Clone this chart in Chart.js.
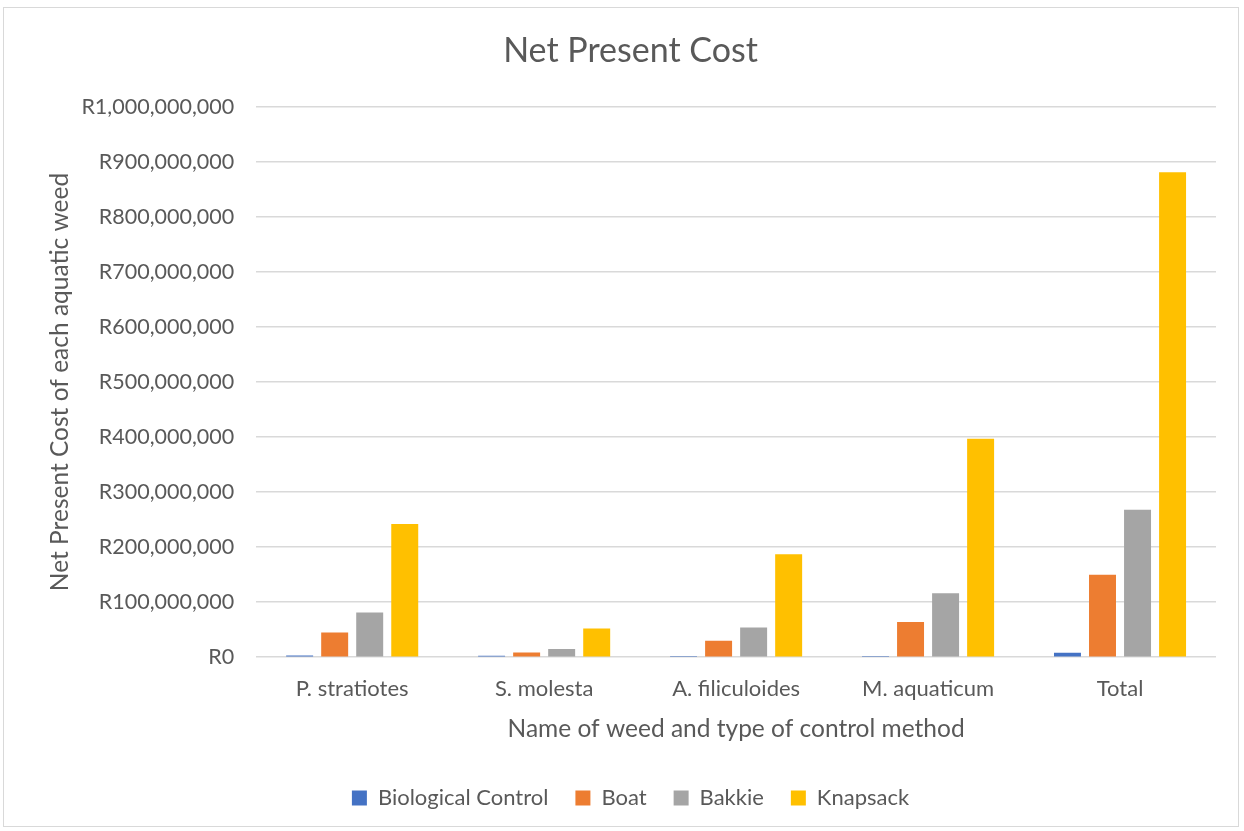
<!DOCTYPE html>
<html lang="en">
<head>
    <meta charset="UTF-8">
    <title>Net Present Cost</title>
    <script src="https://cdn.jsdelivr.net/npm/chart.js"></script>
    <style>
body {
    margin: 0;
    background: #fff;
}
.chart-box {
    position: absolute;
    left: 3px;
    top: 7px;
    width: 1236px;
    height: 820px;
    border: 1px solid #d9d9d9;
    box-sizing: border-box;
}
    </style>
</head>
<body>
    <div class="chart-box">
        <canvas id="npcChart"></canvas>
    </div>
    <script>
        // Weeds and control methods
        const weeds = ['P. stratiotes', 'S. molesta', 'A. filiculoides', 'M. aquaticum', 'Total'];
        const biological = [3000000, 2500000, 500000, 2000000, 8000000];
        const boat = [45000000, 8500000, 30000000, 64000000, 150000000];
        const bakkie = [81000000, 15000000, 54000000, 116000000, 268000000];
        const knapsack = [242000000, 52000000, 187000000, 397000000, 881000000];

        const fontFamily = 'Lato, "Liberation Sans", sans-serif';
        const grey = '#595959';

        const ctx = document.getElementById('npcChart').getContext('2d');
        new Chart(ctx, {
            type: 'bar',
            data: {
                labels: weeds,
                datasets: [
                    { label: 'Biological Control', data: biological, backgroundColor: '#4472C4' },
                    { label: 'Boat', data: boat, backgroundColor: '#ED7D31' },
                    { label: 'Bakkie', data: bakkie, backgroundColor: '#A5A5A5' },
                    { label: 'Knapsack', data: knapsack, backgroundColor: '#FFC000' }
                ]
            },
            options: {
                responsive: true,
                maintainAspectRatio: false,
                animation: false,
                categoryPercentage: 0.73,
                barPercentage: 0.77,
                layout: { padding: { left: 41, right: 22, top: 8, bottom: 7 } },
                plugins: {
                    title: {
                        display: true,
                        text: 'Net Present Cost',
                        color: grey,
                        font: { family: fontFamily, size: 34, weight: 'normal' },
                        padding: { top: 15, bottom: 35 }
                    },
                    legend: {
                        position: 'bottom',
                        labels: {
                            color: grey,
                            font: { family: fontFamily, size: 22 },
                            boxWidth: 15,
                            boxHeight: 15,
                            padding: 27
                        }
                    },
                    tooltip: { enabled: false }
                },
                scales: {
                    x: {
                        grid: { display: false },
                        border: { display: false },
                        ticks: { color: grey, font: { family: fontFamily, size: 22 }, padding: 11 },
                        title: {
                            display: true,
                            text: 'Name of weed and type of control method',
                            color: grey,
                            font: { family: fontFamily, size: 24.5 },
                            padding: { top: 1, bottom: 16 }
                        }
                    },
                    y: {
                        min: 0,
                        max: 1000000000,
                        ticks: {
                            stepSize: 100000000,
                            color: grey,
                            font: { family: fontFamily, size: 21.5 },
                            padding: 22,
                            callback: v => 'R' + v.toLocaleString('en-US')
                        },
                        grid: { color: '#d9d9d9', lineWidth: 1.5, drawTicks: false },
                        border: { display: false },
                        title: {
                            display: true,
                            text: 'Net Present Cost of each aquatic weed',
                            color: grey,
                            font: { family: fontFamily, size: 24.5 },
                            padding: { top: 0, bottom: -15 }
                        }
                    }
                }
            }
        });
    </script>
</body>
</html>
